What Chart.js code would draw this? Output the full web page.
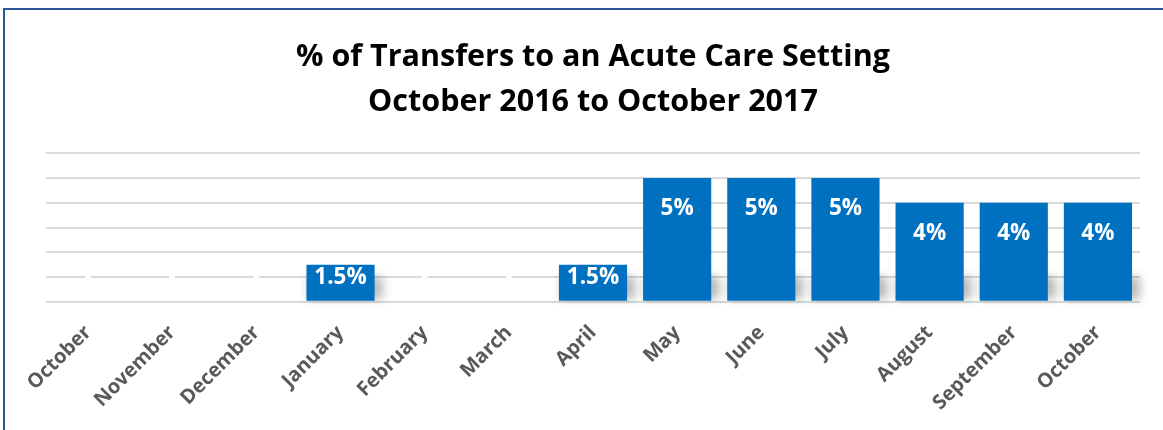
<!DOCTYPE html>
<html>
<head>
<meta charset="utf-8">
<script src="https://cdn.jsdelivr.net/npm/chart.js@4/dist/chart.umd.min.js"></script>
<style>
  html, body { margin: 0; padding: 0; background: #fff; }
  #wrap {
    position: absolute; left: 3px; top: 8px; width: 1160px; height: 422px;
    border-top: 2px solid #2F5597; border-left: 2px solid #2F5597;
  }
  #box { position: absolute; left: -5px; top: -10px; width: 1163px; height: 430px; }
</style>
</head>
<body>
<div id="wrap"><div id="box"><canvas id="chart" width="1163" height="430"></canvas></div></div>
<script>
// 月份（2016年10月 至 2017年10月）
const months = ['October', 'November', 'December', 'January', 'February', 'March', 'April',
  'May', 'June', 'July', 'August', 'September', 'October'];
// 转入急症护理的比例 (%)
const transferPct = [0, 0, 0, 1.5, 0, 0, 1.5, 5, 5, 5, 4, 4, 4];
// 柱上标签
const pctLabels = ['-', '-', '-', '1.5%', '-', '-', '1.5%', '5%', '5%', '5%', '4%', '4%', '4%'];

const titleLines = ['% of Transfers to an Acute Care Setting', 'October 2016 to October 2017'];

// 柱子底部的阴影
const barShadow = {
  id: 'barShadow',
  beforeDatasetsDraw(chart) {
    const ctx = chart.ctx;
    const meta = chart.getDatasetMeta(0);
    ctx.save();
    ctx.filter = 'blur(5px)';
    ctx.fillStyle = 'rgba(0,0,0,0.28)';
    meta.data.forEach((bar, i) => {
      if (!transferPct[i]) return;
      const h = Math.min(24, bar.base - bar.y);
      ctx.fillRect(bar.x - bar.width / 2 + 2, bar.base - h, bar.width + 6, h - 2);
    });
    ctx.restore();
  }
};

// 柱内数值标签
const barLabels = {
  id: 'barLabels',
  afterDatasetsDraw(chart) {
    const ctx = chart.ctx;
    const meta = chart.getDatasetMeta(0);
    ctx.save();
    ctx.fillStyle = '#ffffff';
    ctx.font = 'bold 22.5px "Open Sans"';
    ctx.textAlign = 'center';
    ctx.textBaseline = 'middle';
    meta.data.forEach((bar, i) => {
      const h = bar.base - bar.y;
      const y = transferPct[i] ? bar.y + Math.min(31, h * 0.3 + 2) : bar.base - 24;
      ctx.fillText(pctLabels[i], bar.x, y);
    });
    ctx.restore();
  }
};

new Chart(document.getElementById('chart').getContext('2d'), {
  type: 'bar',
  data: {
    labels: months,
    datasets: [{
      data: transferPct,
      backgroundColor: '#0070C0',
      barPercentage: 0.81,
      categoryPercentage: 1
    }]
  },
  options: {
    responsive: false,
    animation: false,
    layout: { padding: { left: 46, right: 23, top: 10, bottom: 4 } },
    plugins: {
      legend: { display: false },
      tooltip: { enabled: false },
      title: {
        display: true,
        text: titleLines,
        color: '#000000',
        font: { family: '"Open Sans"', size: 30.5, weight: 'bold', lineHeight: 1.48 },
        padding: { top: 24.5, bottom: 28.5 }
      }
    },
    scales: {
      x: {
        grid: { display: false },
        border: { display: false },
        ticks: {
          color: '#595959',
          font: { family: '"Open Sans"', size: 20, weight: 'bold' },
          minRotation: 45,
          maxRotation: 45,
          padding: 11
        }
      },
      y: {
        min: 0,
        max: 6,
        ticks: { display: false, stepSize: 1 },
        grid: { color: '#D9D9D9', lineWidth: 2, drawTicks: false },
        border: { display: false }
      }
    }
  },
  plugins: [barShadow, barLabels]
});
</script>
</body>
</html>
